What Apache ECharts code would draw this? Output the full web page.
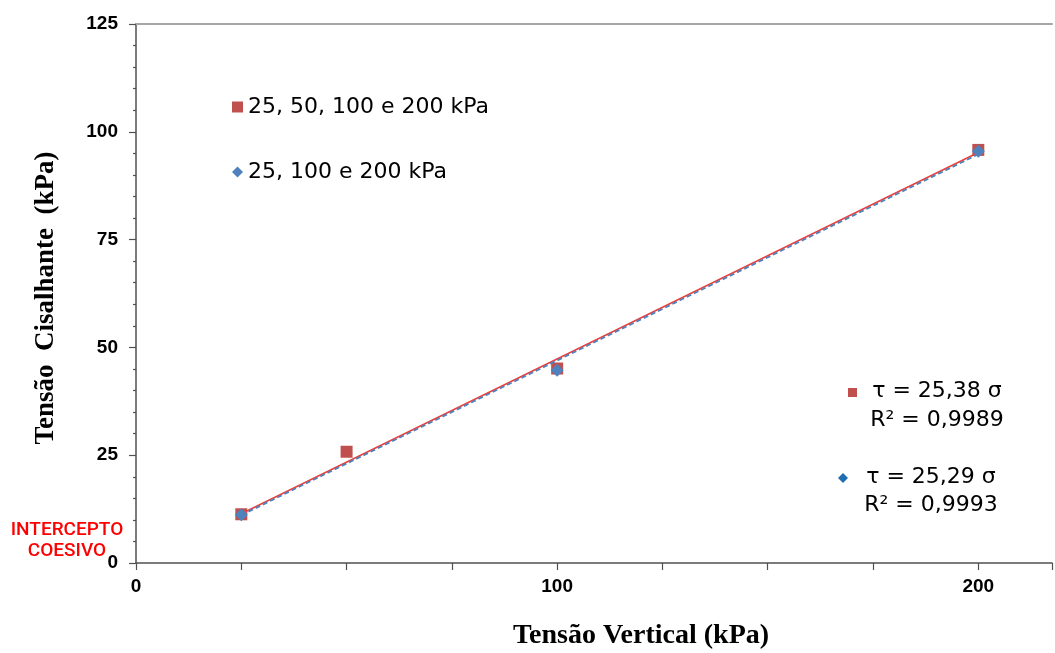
<!DOCTYPE html>
<html>
<head>
<meta charset="utf-8">
<script src="https://cdn.jsdelivr.net/npm/echarts@6/dist/echarts.min.js"></script>
<style>
  html, body { margin: 0; padding: 0; background: #fff; }
  #chart { width: 1055px; height: 653px; }
</style>
</head>
<body>
<div id="chart"></div>
<script>
// Shear test results: shear stress vs. vertical stress (kPa)
const seriesNames = ['25, 50, 100 e 200 kPa', '25, 100 e 200 kPa'];

const sigmaRed = [25, 50, 100, 200];
const tauRed = [11.3, 25.8, 45.1, 95.8];

const sigmaBlue = [25, 100, 200];
const tauBlue = [11.2, 44.7, 95.5];

// Trend line end points
const trendRedX = [25, 200];
const trendRedY = [11.4, 95.2];
const trendBlueX = [25, 200];
const trendBlueY = [11.1, 94.8];

const xLabelValues = [0, 100, 200];
const eqRed = ['τ = 25,38 σ', 'R² = 0,9989'];
const eqBlue = ['τ = 25,29 σ', 'R² = 0,9993'];

const RED = '#c0504d';
const BLUE = '#4f81bd';

const pairs = (xs, ys) => xs.map((x, i) => [x, ys[i]]);

const chart = echarts.init(document.getElementById('chart'), null, { renderer: 'canvas' });

const axisColor = '#505050';

chart.setOption({
  animation: false,
  backgroundColor: '#ffffff',
  grid: { left: 136, top: 24, width: 919, height: 539, containLabel: false },
  legend: {
    orient: 'vertical',
    left: 232,
    top: 96,
    padding: 0,
    itemGap: 43,
    itemWidth: 11,
    itemHeight: 11,
    selectedMode: false,
    textStyle: { fontFamily: 'DejaVu Sans', fontSize: 22, color: '#000' },
    data: [
      { name: seriesNames[0], icon: 'rect' },
      { name: seriesNames[1], icon: 'diamond' }
    ]
  },
  xAxis: [
    {
      type: 'value',
      min: 0,
      max: 217.5,
      interval: 25,
      axisLine: { show: true, onZero: false, lineStyle: { color: axisColor, width: 1.5 } },
      axisTick: { show: true, inside: false, length: 7, lineStyle: { color: axisColor, width: 1.2 } },
      splitLine: { show: false },
      axisLabel: {
        margin: 14,
        fontFamily: 'Liberation Sans',
        fontWeight: 'bold',
        fontSize: 19,
        color: '#000',
        formatter: v => (xLabelValues.indexOf(v) >= 0 ? String(v) : '')
      }
    },
    {
      type: 'value',
      position: 'top',
      min: 0,
      max: 217.5,
      axisLine: { show: true, onZero: false, lineStyle: { color: '#a6a6a6', width: 2 } },
      axisTick: { show: false },
      axisLabel: { show: false },
      splitLine: { show: false }
    }
  ],
  yAxis: {
    type: 'value',
    min: 0,
    max: 125,
    interval: 25,
    axisLine: { show: true, onZero: false, lineStyle: { color: axisColor, width: 1.5 } },
    axisTick: { show: true, inside: false, length: 7, lineStyle: { color: axisColor, width: 1.2 } },
    minorTick: { show: true, splitNumber: 5, length: 3, lineStyle: { color: axisColor, width: 1.2 } },
    splitLine: { show: false },
    axisLabel: {
      margin: 18,
      fontFamily: 'Liberation Sans',
      fontWeight: 'bold',
      fontSize: 19,
      color: '#000'
    }
  },
  series: [
    {
      name: seriesNames[0],
      type: 'scatter',
      symbol: 'rect',
      symbolSize: 12,
      itemStyle: { color: RED, opacity: 1 },
      data: pairs(sigmaRed, tauRed),
      z: 2
    },
    {
      name: 'trend-red',
      type: 'line',
      showSymbol: false,
      symbol: 'none',
      lineStyle: { color: '#e8403c', width: 1.6 },
      data: pairs(trendRedX, trendRedY),
      z: 3
    },
    {
      name: 'trend-blue',
      type: 'line',
      showSymbol: false,
      symbol: 'none',
      lineStyle: { color: BLUE, width: 1.8, type: [5, 3] },
      data: pairs(trendBlueX, trendBlueY),
      z: 4
    },
    {
      name: seriesNames[1],
      type: 'scatter',
      symbol: 'diamond',
      symbolSize: 13,
      itemStyle: { color: BLUE, opacity: 1 },
      data: pairs(sigmaBlue, tauBlue),
      z: 5
    }
  ],
  graphic: [
    // axis titles
    {
      type: 'text',
      x: 46, y: 298,
      rotation: Math.PI / 2,
      style: {
        text: 'Tensão  Cisalhante  (kPa)',
        fontFamily: 'Liberation Serif',
        fontWeight: 'bold',
        fontSize: 27,
        fill: '#000',
        align: 'center',
        verticalAlign: 'middle'
      }
    },
    {
      type: 'text',
      x: 641, y: 636,
      style: {
        text: 'Tensão Vertical (kPa)',
        fontFamily: 'Liberation Serif',
        fontWeight: 'bold',
        fontSize: 28,
        fill: '#000',
        align: 'center',
        verticalAlign: 'middle'
      }
    },
    // cohesion intercept note
    {
      type: 'text',
      x: 67, y: 541,
      style: {
        text: 'INTERCEPTO\nCOESIVO',
        fontFamily: 'Roboto',
        fontWeight: 500,
        fontSize: 19,
        lineHeight: 21,
        fill: '#ff0000',
        align: 'center',
        verticalAlign: 'middle'
      }
    },
    // regression equations
    { type: 'rect', shape: { x: 848, y: 388, width: 9, height: 9 }, style: { fill: RED } },
    {
      type: 'text', x: 937, y: 406,
      style: {
        text: eqRed.join('\n'), fontFamily: 'DejaVu Sans', fontSize: 22, lineHeight: 29,
        fill: '#000', align: 'center', verticalAlign: 'middle'
      }
    },
    { type: 'polygon', shape: { points: [[843, 473], [848, 478], [843, 483], [838, 478]] }, style: { fill: '#1f6fb0' } },
    {
      type: 'text', x: 931, y: 491,
      style: {
        text: eqBlue.join('\n'), fontFamily: 'DejaVu Sans', fontSize: 22, lineHeight: 28,
        fill: '#000', align: 'center', verticalAlign: 'middle'
      }
    }
  ]
});
</script>
</body>
</html>
